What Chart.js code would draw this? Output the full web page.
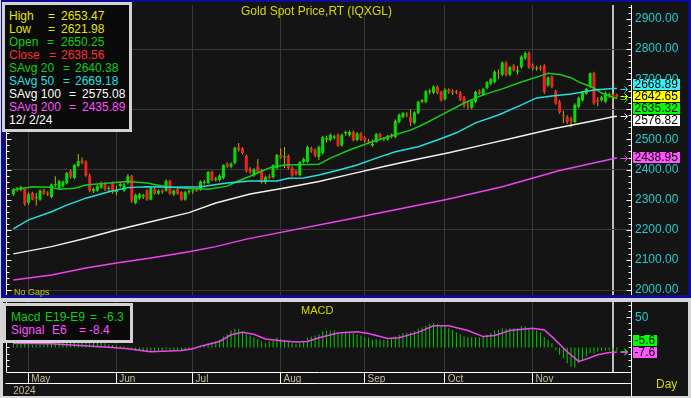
<!DOCTYPE html>
<html>
<head>
<meta charset="utf-8">
<title>Gold Spot Price,RT (IQXGL)</title>
<script src="https://cdn.jsdelivr.net/npm/chart.js@4.4.1/dist/chart.umd.min.js"></script>
<style>
  html, body { margin: 0; padding: 0; }
  body { width: 691px; height: 398px; position: relative; overflow: hidden; background: #d6d6d6;
         font-family: "Liberation Sans", Arial, sans-serif; }
  .pane { position: absolute; }
  #blueTop { left: 1px; top: 0; width: 690px; height: 298px; background: #0c0c98; }
  #darkTop { left: 5px; top: 2px; width: 683px; height: 293px; background: #141414; }
  #darkBot { left: 3px; top: 302px; width: 685px; height: 94px; background: #141414; }
  canvas { position: absolute; left: 0; z-index: 1; }
  #cMain { top: 0; }
  #cMacd { top: 298px; }
  .box { position: absolute; z-index: 2; background: #0a0a0a; border: 3px solid #d2d2d2; box-sizing: border-box; }
  .t { position: absolute; z-index: 3; white-space: pre; }
</style>
</head>
<body>
<div class="pane" id="blueTop"></div>
<div class="pane" id="darkTop"></div>
<div class="pane" id="darkBot"></div>
<canvas id="cMain" width="691" height="298"></canvas>
<canvas id="cMacd" width="691" height="100"></canvas>
<div class="box" style="left:2px;top:2px;width:130px;height:130px"></div>
<div class="box" style="left:3px;top:303px;width:130px;height:40px"></div>
<script>
// bars: Apr 25 2024 .. Dec 3 2024, one per trading day (index 0..158)
var opens = [2318,2334,2333,2335,2290,2322,2305,2300,2330,2322,
  2309,2348,2339,2345,2355,2395,2372,2412,2430,2425,
  2380,2328,2330,2340,2355,2335,2355,2325,2345,2330,
  2355,2378,2289,2305,2310,2330,2300,2335,2320,2330,
  2330,2362,2318,2335,2325,2300,2325,2328,2335,2333,
  2355,2355,2392,2365,2365,2372,2418,2410,2422,2475,
  2470,2445,2400,2380,2410,2398,2358,2378,2375,2405,
  2448,2440,2445,2405,2395,2382,2425,2425,2470,2465,
  2442,2455,2500,2498,2505,2515,2480,2520,2515,2525,
  2498,2520,2505,2495,2480,2492,2518,2500,2500,2515,
  2508,2558,2574,2582,2575,2555,2588,2625,2625,2658,
  2655,2675,2658,2634,2665,2660,2660,2655,2640,2615,
  2605,2625,2660,2648,2670,2685,2690,2720,2715,2755,
  2715,2745,2725,2740,2770,2787,2745,2735,2740,2745,
  2680,2707,2660,2625,2580,2575,2570,2558,2608,2630,
  2652,2675,2720,2630,2630,2625,2645,2650.25,2648];
var highs = [2338,2342,2346,2338,2324,2326,2322,2334,2336,2328,
  2354,2378,2366,2364,2392,2400,2418,2452,2440,2430,
  2386,2340,2350,2360,2358,2345,2360,2345,2358,2355,
  2385,2382,2320,2322,2320,2334,2342,2340,2334,2334,
  2368,2366,2334,2340,2328,2330,2334,2336,2340,2364,
  2366,2395,2396,2376,2384,2418,2424,2424,2476,2488,
  2474,2450,2408,2404,2435,2402,2380,2384,2418,2452,
  2470,2475,2450,2410,2400,2428,2440,2480,2476,2470,
  2480,2512,2512,2520,2516,2520,2520,2530,2530,2530,
  2524,2524,2510,2502,2500,2522,2522,2508,2516,2520,
  2566,2586,2592,2590,2600,2594,2628,2634,2664,2668,
  2680,2680,2662,2670,2670,2666,2664,2660,2644,2625,
  2634,2662,2666,2672,2694,2705,2730,2732,2760,2760,
  2745,2750,2745,2780,2792,2792,2752,2745,2746,2750,
  2710,2712,2665,2630,2595,2580,2575,2620,2642,2660,
  2672,2722,2725,2640,2645,2660,2656,2653.47,2652];
var lows = [2312,2326,2328,2280,2282,2298,2280,2296,2316,2312,
  2305,2342,2335,2340,2350,2370,2368,2408,2418,2376,
  2325,2322,2326,2336,2330,2325,2320,2315,2340,2326,
  2350,2290,2285,2300,2302,2296,2298,2316,2316,2320,
  2326,2316,2312,2316,2296,2296,2318,2320,2326,2330,
  2350,2352,2362,2360,2360,2368,2406,2404,2418,2460,
  2450,2390,2386,2376,2385,2354,2352,2368,2370,2400,
  2436,2405,2400,2376,2380,2378,2420,2422,2456,2442,
  2432,2450,2490,2494,2500,2476,2476,2512,2510,2494,
  2494,2496,2490,2486,2475,2488,2500,2494,2496,2504,
  2504,2554,2570,2574,2545,2550,2584,2620,2620,2650,
  2650,2650,2626,2630,2652,2648,2650,2628,2605,2600,
  2600,2620,2648,2644,2666,2680,2686,2700,2710,2710,
  2710,2726,2715,2735,2765,2735,2730,2728,2728,2652,
  2675,2670,2615,2585,2555,2552,2540,2554,2604,2626,
  2648,2670,2615,2610,2626,2620,2638,2621.98,2636];
var closes = [2334,2337,2342,2286,2318,2300,2308,2330,2320,2318,
  2350,2352,2362,2360,2389,2375,2415,2428,2422,2380,
  2330,2335,2345,2355,2335,2338,2325,2330,2352,2350,
  2378,2296,2316,2318,2315,2300,2339,2320,2330,2325,
  2362,2320,2330,2320,2300,2325,2328,2330,2330,2360,
  2358,2392,2365,2370,2380,2415,2410,2420,2472,2465,
  2455,2395,2392,2400,2390,2358,2375,2372,2415,2448,
  2440,2442,2405,2380,2385,2425,2435,2475,2462,2448,
  2475,2508,2505,2515,2510,2480,2515,2525,2525,2498,
  2520,2500,2495,2492,2485,2518,2505,2502,2512,2508,
  2562,2582,2588,2580,2558,2590,2625,2630,2660,2662,
  2675,2655,2630,2665,2658,2655,2655,2632,2615,2612,
  2630,2658,2652,2668,2690,2700,2725,2718,2755,2715,
  2740,2730,2730,2775,2787,2740,2735,2738,2735,2658,
  2705,2675,2620,2590,2578,2558,2560,2615,2638,2655,
  2668,2720,2620,2625,2640,2655,2650,2638.56,2642.65];

// moving averages at these bar indices
var sma20Idx = [0,5,10,12,16,19,26,30,35,40,45,51,56,59,62,67,71,80,83,88,93,99,104,107,112,118,123,128,133,138,140,143,146,148,152,154,157,158];
var sma20 = [2332,2343,2341,2335,2338,2349,2356,2360,2355,2343,2338,2335,2345,2363,2378,2405,2415,2418,2438,2465,2488,2512,2531,2548,2581,2621,2648,2668,2691,2711,2720,2716,2705,2691,2671,2654,2640.38,2635.32];
var sma50Idx = [0,4,10,14,19,25,30,35,42,49,56,62,69,72,76,80,85,90,95,100,106,111,116,121,127,132,137,141,146,152,157,158];
var sma50 = [2203,2233,2260,2282,2305,2326,2340,2343,2341,2343,2355,2362,2362,2371,2372,2382,2398,2415,2438,2459,2476,2498,2522,2555,2581,2609,2638,2644,2651,2664,2669.18,2668.89];
var sma100Idx = [0,10,19,27,36,46,53,62,71,80,88,97,106,114,123,132,141,147,152,157,158];
var sma100 = [2120,2144,2172,2199,2227,2257,2289,2319,2339,2360,2384,2410,2435,2456,2482,2508,2535,2550,2562,2575.08,2576.82];
var sma200Idx = [0,10,19,27,36,46,53,61,88,114,128,143,146,157,158];
var sma200 = [2033,2050,2073,2090,2106,2127,2144,2169,2236,2302,2343,2397,2405,2435.89,2438.95];

// MACD histogram, one per bar
var macdHist = [8,7,7,6,5,4,4,5,5,6,
  7,9,11,13,15,17,19,21,22,20,
  16,13,11,9,7,5,4,3,2,2,
  1,-3,-5,-6,-7,-8,-7,-7,-6,-5,
  -3,-4,-5,-5,-6,-5,-4,-2,-1,3,
  4,7,8,10,13,18,22,28,31,31,
  27,22,20,17,14,10,7,10,11,16,
  14,13,10,7,6,7,11,16,18,20,
  22,27,28,28,28,25,25,27,25,24,
  22,20,17,16,13,14,13,13,13,14,
  18,21,24,24,25,27,31,33,36,39,
  40,39,36,35,32,29,25,22,18,17,
  17,17,17,18,21,24,28,29,32,31,
  32,32,32,35,35,32,31,28,25,17,
  13,7,-4,-12,-18,-26,-32,-33,-26,-20,
  -15,-9,-10,-7,-6,-5,-5,-6.3,-5.6];
var signalIdx = [0,10,26,30,36,44,47,49,54,57,60,63,66,70,74,77,80,85,90,93,98,101,106,110,114,119,123,126,130,136,139,141,145,148,150,153,156,157,158];
var signalVals = [7,6,0,-2,-7,-5,-2,2,10,21,25,22,14,11,9,10,16,24,26,23,15,16,25,36,36,28,18,20,28,32,29,18,-7,-23,-19,-12,-8.5,-8.4,-7.6];

var monthStarts = [4,27,47,70,92,113,136];
var monthNames = ['May','Jun','Jul','Aug','Sep','Oct','Nov'];
var yearLabel = '2024';
var cursorIdx = 157;
var cursorDate = '12/ 2/24';

var xMin = -1.65, xMax = 161.7;
var FONT = '"Liberation Sans", Arial, sans-serif';
Chart.defaults.font.family = FONT;

var GREEN = '#00e000', RED = '#ee2222', WICK = '#c0b000';
var C20 = '#18cc18', C50 = '#22e0e0', C100 = '#f0f0f0', C200 = '#ee44ee';
var GRID = '#383838';
var last = closes.length - 1;

function pts(idx, vals) {
  return idx.map(function (x, k) { return {x: x, y: vals[k]}; });
}
function atIdx(idx, vals, i) { return vals[idx.indexOf(i)]; }
function noPad(s) { s.paddingTop = 0; s.paddingBottom = 0; s.paddingLeft = 0; s.paddingRight = 0; }

function drawAxes(chart, isMajor, rightBottom) {
  var c = chart.ctx, a = chart.chartArea, ys = chart.scales.y;
  var xl = Math.round(a.left) - 0.5, xr = Math.round(a.right) + 0.5;
  c.save();
  c.strokeStyle = '#ffffff'; c.lineWidth = 1;
  c.beginPath();
  c.moveTo(xl, a.top); c.lineTo(xl, a.bottom);
  c.moveTo(xr, a.top); c.lineTo(xr, rightBottom);
  ys.ticks.forEach(function (t) {
    var y = Math.round(ys.getPixelForValue(t.value)) + 0.5;
    var n = isMajor(t.value) ? 5 : 3;
    c.moveTo(xl, y); c.lineTo(xl + n, y);
    c.moveTo(xr, y); c.lineTo(xr - n, y);
  });
  c.stroke();
  c.restore();
}

function drawBadges(chart, items, digits) {
  var c = chart.ctx, a = chart.chartArea, ys = chart.scales.y;
  var xr = Math.round(a.right) + 0.5;
  c.save();
  items.forEach(function (b) { b.py = ys.getPixelForValue(b.v); });
  items.forEach(function (b) {
    var y = Math.round(b.py) + 0.5;
    c.strokeStyle = b.line; c.lineWidth = 1;
    c.beginPath();
    c.moveTo(xr - 11, y); c.lineTo(xr - 4, y);
    c.moveTo(xr - 7, y - 3); c.lineTo(xr - 4, y); c.lineTo(xr - 7, y + 3);
    c.stroke();
  });
  var s = items.slice().sort(function (p, q) { return p.py - q.py; });
  var k = s.findIndex(function (b) { return b.anchor; });
  s[k].by = s[k].py;
  for (var j = k - 1; j >= 0; j--) s[j].by = Math.min(s[j].py, s[j + 1].by - 12);
  for (j = k + 1; j < s.length; j++) s[j].by = Math.max(s[j].py, s[j - 1].by + 12);
  c.font = '12px ' + FONT;
  c.textBaseline = 'middle'; c.textAlign = 'left';
  s.forEach(function (b) {
    var label = b.v.toFixed(digits);
    var w = Math.ceil(c.measureText(label).width) + 3;
    var top = Math.round(b.by - 5.5);
    c.fillStyle = b.fill; c.fillRect(xr + 1.5, top, w, 11);
    c.fillStyle = '#000000'; c.fillText(label, xr + 3, top + 6);
  });
  c.restore();
}

var mainDeco = {
  id: 'mainDeco',
  afterDraw: function (chart) {
    drawAxes(chart, function (v) { return v % 100 === 0; }, chart.chartArea.bottom);
    drawBadges(chart, [
      {v: sma50[sma50.length - 1], fill: '#38f0f8', line: C50},
      {v: closes[last], fill: '#ffff00', line: '#ffff00', anchor: true},
      {v: sma20[sma20.length - 1], fill: '#00ff00', line: C20},
      {v: sma100[sma100.length - 1], fill: '#ffffff', line: C100},
      {v: sma200[sma200.length - 1], fill: '#ff55ff', line: C200}
    ], 2);
  }
};

var macdDeco = {
  id: 'macdDeco',
  afterDraw: function (chart) {
    var c = chart.ctx, a = chart.chartArea;
    drawAxes(chart, function (v) { return v === 50; }, chart.height);
    c.save();
    c.strokeStyle = '#ffffff'; c.lineWidth = 1;
    c.beginPath();
    c.moveTo(Math.round(a.left) - 1.5, a.bottom + 11.5);
    c.lineTo(Math.round(a.right) + 0.5, a.bottom + 11.5);
    c.stroke();
    c.restore();
    drawBadges(chart, [
      {v: macdHist[last], fill: '#00ff00', line: '#00e000'},
      {v: signalVals[signalVals.length - 1], fill: '#ff55ff', line: C200, anchor: true}
    ], 1);
  }
};

function lineSet(data, color) {
  return {type: 'line', data: data, borderColor: color, borderWidth: 1.5, pointRadius: 0,
          tension: 0, fill: false, order: 0};
}

function monthGridColor(ctx) {
  var v = ctx.tick ? ctx.tick.value : null;
  if (v === cursorIdx) return '#bdbdbd';
  if (monthStarts.indexOf(v) >= 0) return GRID;
  return 'rgba(0,0,0,0)';
}
function monthGridWidth(ctx) {
  return ctx.tick && ctx.tick.value === cursorIdx ? 2 : 1;
}

var idxs = closes.map(function (c, i) { return i; });

new Chart(document.getElementById('cMain'), {
  type: 'bar',
  data: {
    datasets: [
      lineSet(pts(sma200Idx, sma200), C200),
      lineSet(pts(sma100Idx, sma100), C100),
      lineSet(pts(sma50Idx, sma50), C50),
      lineSet(pts(sma20Idx, sma20), C20),
      {data: idxs.map(function (i) { return {x: i, y: [lows[i], highs[i]]}; }),
       backgroundColor: WICK, barThickness: 1, maxBarThickness: 1, grouped: false,
       inflateAmount: 0, borderWidth: 0, order: 2},
      {data: idxs.map(function (i) { return {x: i, y: [opens[i], closes[i]]}; }),
       backgroundColor: idxs.map(function (i) { return closes[i] >= opens[i] ? GREEN : RED; }),
       barThickness: 3, maxBarThickness: 3, grouped: false, minBarLength: 1,
       inflateAmount: 0, borderWidth: 0, order: 1}
    ]
  },
  options: {
    responsive: false, animation: false, devicePixelRatio: 1,
    layout: {autoPadding: false, padding: {top: 5, bottom: 3, left: 0, right: 0}},
    plugins: {legend: {display: false}, tooltip: {enabled: false}},
    scales: {
      x: {type: 'linear', min: xMin, max: xMax, offset: false,
          ticks: {display: false},
          border: {display: false},
          grid: {offset: false, drawTicks: false, color: monthGridColor, lineWidth: monthGridWidth},
          afterBuildTicks: function (s) {
            s.ticks = monthStarts.concat([cursorIdx]).map(function (v) { return {value: v}; });
          },
          afterFit: function (s) { s.height = 0; noPad(s); }},
      y: {position: 'right', min: 1983.4, max: 2946.5, beginAtZero: false,
          border: {display: false},
          grid: {drawTicks: false, color: function (ctx) {
            return ctx.tick && ctx.tick.value % 200 === 0 ? GRID : 'rgba(0,0,0,0)';
          }},
          ticks: {color: '#22cccc', font: {size: 12}, padding: 4, autoSkip: false,
                  callback: function (v) { return v % 100 === 0 ? v.toFixed(2) : ''; }},
          afterBuildTicks: function (s) {
            var t = [];
            for (var v = 2000; v <= 2940; v += 20) t.push({value: v});
            s.ticks = t;
          },
          afterFit: function (s) { s.width = 60; noPad(s); }},
      yl: {position: 'left', min: 1983.4, max: 2946.5,
           border: {display: false}, grid: {display: false}, ticks: {display: false},
           afterFit: function (s) { s.width = 7; noPad(s); }}
    }
  },
  plugins: [mainDeco]
});

new Chart(document.getElementById('cMacd'), {
  type: 'bar',
  data: {
    datasets: [
      lineSet(pts(signalIdx, signalVals), C200),
      {data: idxs.map(function (i) { return {x: i, y: macdHist[i]}; }),
       backgroundColor: '#00cc00', barThickness: 1, maxBarThickness: 1,
       inflateAmount: 0, borderWidth: 0, order: 1}
    ]
  },
  options: {
    responsive: false, animation: false, devicePixelRatio: 1,
    layout: {autoPadding: false, padding: {top: 4, bottom: 2, left: 0, right: 0}},
    plugins: {legend: {display: false}, tooltip: {enabled: false}},
    scales: {
      x: {type: 'linear', min: xMin, max: xMax, offset: false, position: 'bottom',
          border: {display: true, color: '#ffffff', width: 1},
          grid: {offset: false, drawTicks: true, tickLength: 11, color: function (ctx) {
                   return ctx.tick && ctx.tick.value === 0 ? 'rgba(0,0,0,0)' : monthGridColor(ctx);
                 },
                 lineWidth: monthGridWidth,
                 tickColor: function (ctx) {
                   return ctx.tick && monthStarts.indexOf(ctx.tick.value) >= 0 ? '#ffffff' : 'rgba(0,0,0,0)';
                 }},
          ticks: {color: '#c8bea0', font: {size: 10}, padding: -10, align: 'start',
                  autoSkip: false, maxRotation: 0, minRotation: 0,
                  callback: function (v) {
                    if (v === 0) return ['', yearLabel];
                    var m = monthStarts.indexOf(v);
                    return m >= 0 ? ' ' + monthNames[m] : '';
                  }},
          afterBuildTicks: function (s) {
            s.ticks = [0].concat(monthStarts, [cursorIdx]).map(function (v) { return {value: v}; });
          },
          afterFit: function (s) { s.height = 24; noPad(s); }},
      y: {position: 'right', min: -40.6, max: 75.3, beginAtZero: false,
          border: {display: false},
          grid: {display: false, drawTicks: false},
          ticks: {color: '#22cccc', font: {size: 12}, padding: 4, autoSkip: false,
                  callback: function (v) { return v === 50 ? '50' : ''; }},
          afterBuildTicks: function (s) {
            var t = [];
            for (var v = -40; v <= 70; v += 10) t.push({value: v});
            s.ticks = t;
          },
          afterFit: function (s) { s.width = 60; noPad(s); }},
      yl: {position: 'left', min: -40.6, max: 75.3,
           border: {display: false}, grid: {display: false}, ticks: {display: false},
           afterFit: function (s) { s.width = 7; noPad(s); }}
    }
  },
  plugins: [macdDeco]
});

// text overlays
function addText(str, x, yc, color, size) {
  var d = document.createElement('div');
  d.className = 't';
  d.textContent = str;
  d.style.left = x + 'px';
  d.style.top = (yc - size * 0.6).toFixed(1) + 'px';
  d.style.color = color;
  d.style.fontSize = size + 'px';
  d.style.lineHeight = (size * 1.2).toFixed(1) + 'px';
  document.body.appendChild(d);
}

var YEL = '#e6e600', LGREEN = '#10d010', LRED = '#ff3030';
var legendRows = [
  ['High', highs[cursorIdx], YEL, 48, 61],
  ['Low', lows[cursorIdx], YEL, 48, 61],
  ['Open', opens[cursorIdx], LGREEN, 47, 61],
  ['Close', closes[cursorIdx], LRED, 49, 61],
  ['SAvg 20', atIdx(sma20Idx, sma20, cursorIdx), LGREEN, 63, 75],
  ['SAvg 50', atIdx(sma50Idx, sma50, cursorIdx), C50, 63, 75],
  ['SAvg 100', atIdx(sma100Idx, sma100, cursorIdx), '#ffffff', 69, 82],
  ['SAvg 200', atIdx(sma200Idx, sma200, cursorIdx), '#ff50ff', 69, 82]
];
legendRows.forEach(function (r, k) {
  var yc = 15.7 + 13.1 * k;
  addText(r[0], 9, yc, r[2], 12);
  addText('=', r[3], yc, r[2], 12);
  addText(r[1].toFixed(2), r[4], yc, r[2], 12);
});
addText(cursorDate, 9, 15.7 + 13.1 * 8, '#ffffff', 12);

addText('Macd', 11, 317.5, LGREEN, 12);
addText('E19-E9', 45, 317.5, LGREEN, 12);
addText('=', 90, 317.5, LGREEN, 12);
addText(macdHist[cursorIdx].toFixed(1), 103, 317.5, LGREEN, 12);
addText('Signal', 11, 330, '#ff50ff', 12);
addText('E6', 52, 330, '#ff50ff', 12);
addText('=', 79, 330, '#ff50ff', 12);
addText(atIdx(signalIdx, signalVals, cursorIdx).toFixed(1), 89, 330, '#ff50ff', 12);

addText('Gold Spot Price,RT (IQXGL)', 241, 11, '#d8d800', 12);
addText('MACD', 301, 311, '#d8d800', 11);
addText('No Gaps', 14, 292, '#c8c800', 9);
addText('Day', 656, 384, '#d8d800', 12);
</script>
</body>
</html>
